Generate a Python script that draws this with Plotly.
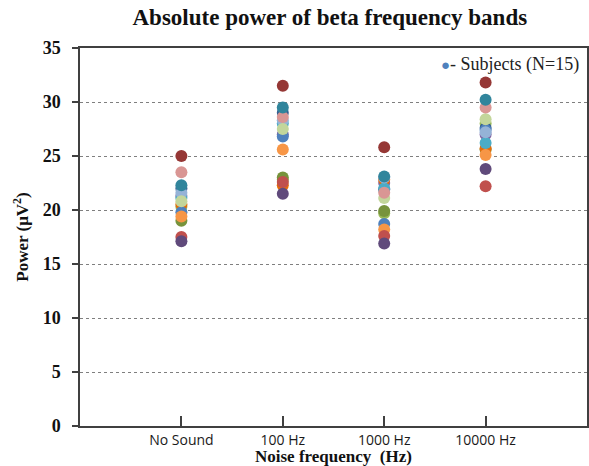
import plotly.graph_objects as go

categories = ["No Sound", "100 Hz", "1000 Hz", "10000 Hz"]

subject_colors = [
    "#4F81BD", "#C0504D", "#77933C", "#604A7B", "#4BACC6",
    "#F79646", "#953735", "#31859C", "#95B3D7", "#C3D69B",
    "#D99694", "#E46C0A", "#376092", "#8064A2", "#9BBB59",
]

s1 = [19.8, 26.8, 18.7, 27.4]
s2 = [17.5, 22.6, 17.6, 22.2]
s3 = [19.0, 23.0, 19.9, 25.6]
s4 = [17.1, 21.5, 16.9, 23.8]
s5 = [21.1, 28.0, 22.0, 26.2]
s6 = [19.4, 25.6, 18.2, 25.1]
s7 = [25.0, 31.5, 25.8, 31.8]
s8 = [22.3, 29.5, 23.1, 30.2]
s9 = [21.6, 28.3, 23.0, 27.2]
s10 = [20.8, 27.5, 21.1, 28.4]
s11 = [23.5, 28.6, 21.6, 29.5]
s12 = [20.5, 22.3, 22.8, 25.7]
s13 = [22.0, 29.0, 21.9, 27.6]
s14 = [21.3, 27.0, 22.5, 27.0]
s15 = [20.3, 22.8, 19.7, 28.0]

subjects = [s1, s2, s3, s4, s5, s6, s7, s8, s9, s10, s11, s12, s13, s14, s15]
draw_order = [13, 14, 2, 11, 12, 0, 5, 4, 8, 9, 10, 7, 1, 3, 6]
legend_label = "- Subjects (N=15)"
x_title = "Noise frequency  (Hz)"
y_title = "Power (μV<sup>2</sup>)"

fig = go.Figure()
for i in draw_order:
    fig.add_trace(go.Scatter(
        x=categories, y=subjects[i], mode="markers",
        marker=dict(size=12, color=subject_colors[i], line=dict(width=0)),
        showlegend=False,
    ))

serif = "Liberation Serif"
axis_col = "#404040"

fig.update_layout(
    width=589, height=466,
    paper_bgcolor="white", plot_bgcolor="white",
    margin=dict(l=80, r=2, t=48, b=40),
    title=dict(text="<b>Absolute power of beta frequency bands</b>",
               x=0.56, xanchor="center", y=0.963, yanchor="middle",
               font=dict(family=serif, size=23, color="#111111")),
    showlegend=False,
)
fig.add_annotation(
    xref="paper", yref="paper", x=0.988, y=0.957,
    xanchor="right", yanchor="middle", showarrow=False,
    text='<span style="color:#4F81BD;font-size:15px">●</span>' + legend_label,
    font=dict(family=serif, size=18, color="#222222"),
)
fig.add_annotation(
    xref="paper", yref="paper", x=0.5, y=-0.081,
    xanchor="center", yanchor="middle", showarrow=False,
    text="<b>" + x_title + "</b>",
    font=dict(family=serif, size=17, color="#111111"),
)
fig.update_xaxes(
    type="category", range=[-1, 4],
    showline=True, linecolor=axis_col, linewidth=1.5, mirror=True,
    ticks="inside", ticklen=10, tickcolor=axis_col, tickwidth=1.5,
    showgrid=False,
    tickfont=dict(family="Open Sans", size=14, color="#1a1a1a"),
    automargin=False,
)
fig.update_yaxes(
    range=[0, 35], dtick=5,
    showline=True, linecolor=axis_col, linewidth=1.5, mirror=True,
    ticks="outside", ticklen=6, tickcolor=axis_col, tickwidth=1.5,
    ticklabelstandoff=8,
    showgrid=True, gridcolor="#7f7f7f", griddash="dot", gridwidth=1,
    zeroline=False,
    tickfont=dict(family=serif, size=18, color="#111111"),
    tickprefix="<b>", ticksuffix="</b>",
    title=dict(text="<b>" + y_title + "</b>", standoff=10,
               font=dict(family=serif, size=17, color="#111111")),
    automargin=False,
)

fig.write_html("out.html")
